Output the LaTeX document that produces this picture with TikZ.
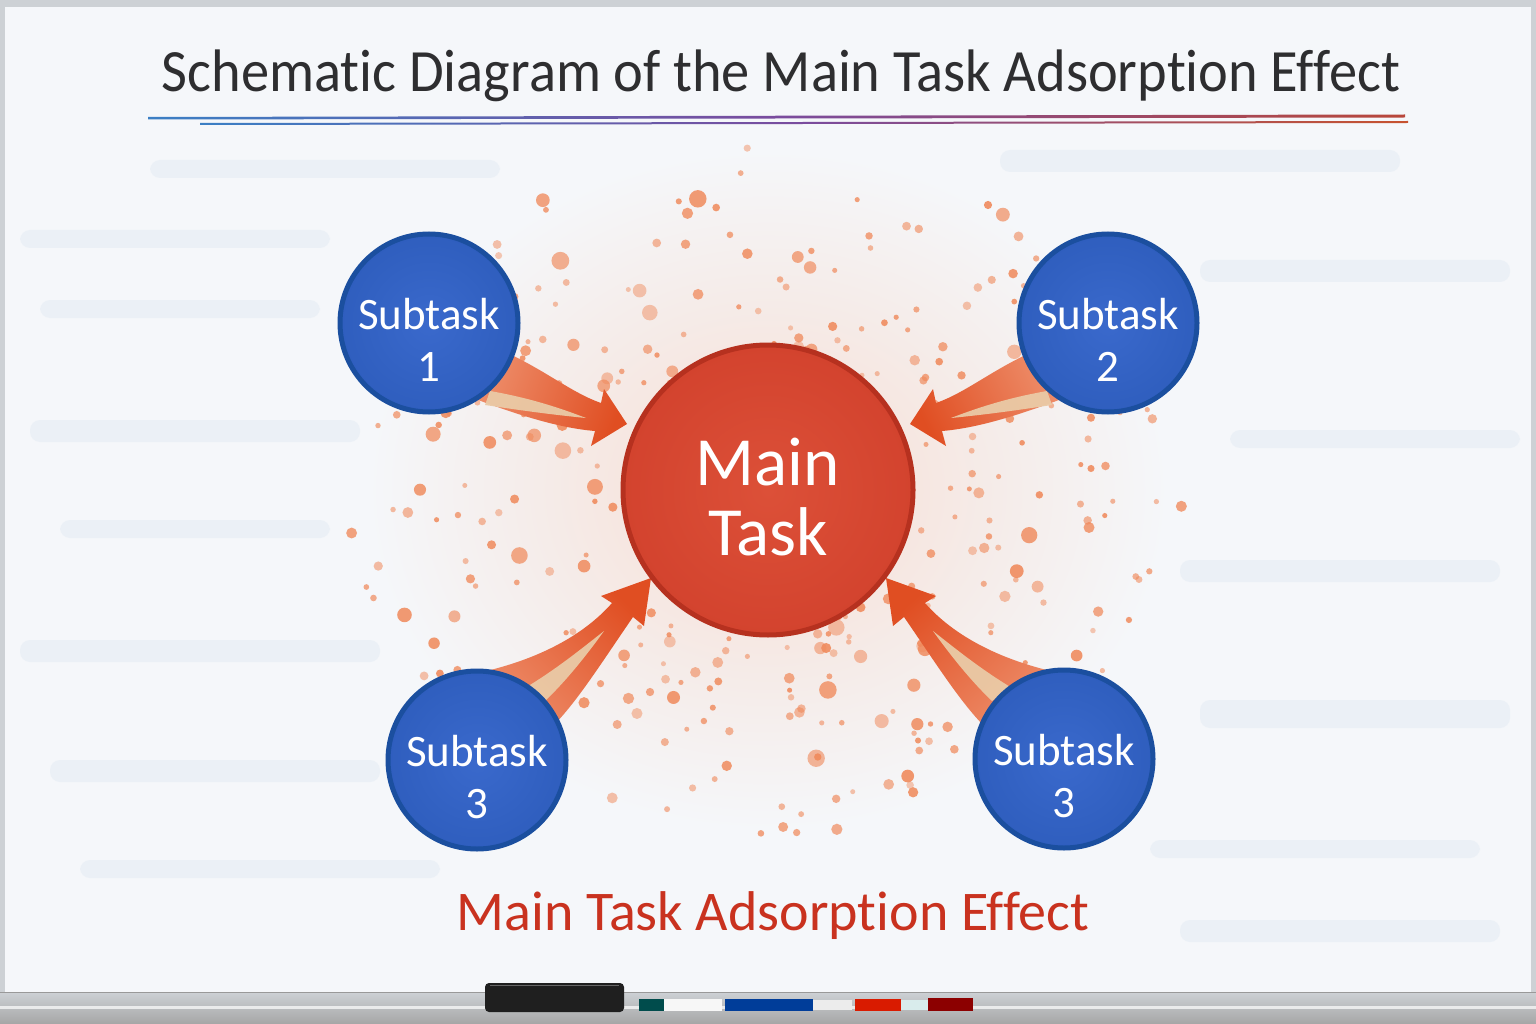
\documentclass[tikz,border=0pt]{standalone}
\usepackage{fontspec}
\setmainfont{Carlito}[Ligatures=NoCommon]
\definecolor{frame}{HTML}{CDD1D5}
\definecolor{board}{HTML}{F5F7FA}
\definecolor{smudge}{HTML}{D9E5F0}
\definecolor{titlec}{HTML}{2E2E30}
\definecolor{ulblue}{HTML}{3B7FC4}
\definecolor{ulpurple}{HTML}{7A4C9E}
\definecolor{ulred}{HTML}{B9473A}
\definecolor{redfill}{HTML}{D3432E}
\definecolor{redin}{HTML}{DC5038}
\definecolor{rededge}{HTML}{B6311F}
\definecolor{bluefill}{HTML}{2F5EBE}
\definecolor{bluein}{HTML}{3A69CC}
\definecolor{blueedge}{HTML}{1B4F9F}
\definecolor{arrowdark}{HTML}{E04E22}
\definecolor{arrowlight}{HTML}{EE8F6C}
\definecolor{streak}{HTML}{EACAA6}
\definecolor{dotc}{HTML}{F08A5C}
\definecolor{halo}{HTML}{F6DDD2}
\definecolor{bottomred}{HTML}{C9321F}
\tikzset{
  maincirc/.style={circle, minimum size=290pt, draw=rededge, line width=5pt, inner color=redin, outer color=redfill},
  subcirc/.style={circle, minimum size=178pt, draw=blueedge, line width=5pt, inner color=bluein, outer color=bluefill},
  maintext/.style={text=white, align=center, font=\fontsize{69}{70}\selectfont},
  subtext/.style={text=white, align=center, font=\fontsize{45}{52}\selectfont},
  arrowbody/.style={top color=arrowlight, bottom color=arrowdark},
  streakfill/.style={fill=streak, opacity=0.95},
  smudgefill/.style={fill=smudge, opacity=0.35, rounded corners=10pt},
}
\begin{document}
\begin{tikzpicture}[x=1pt,y=-1pt]
\useasboundingbox (0,0) rectangle (1536,1024);
% frame and board
\fill[frame] (0,0) rectangle (1536,1024);
\fill[board] (5,7) rectangle (1531,992);
% halo
\shade[inner color=halo, outer color=board] (768,490) ellipse[x radius=400, y radius=340];
% smudges
\foreach \a/\b/\c/\d in {20/230/330/248, 40/300/320/318, 30/420/360/442, 60/520/330/538, 20/640/380/662, 50/760/380/782, 80/860/440/878, 1200/260/1510/282, 1230/430/1520/448, 1180/560/1500/582, 1200/700/1510/728, 1150/840/1480/858, 1180/920/1500/942, 150/160/500/178, 1000/150/1400/172}
  \fill[smudgefill] (\a,\b) rectangle (\c,\d);
% title
\node[text=titlec, anchor=base] (title) at (781,92) {\scalebox{0.94}[1]{\fontsize{60}{66}\selectfont Schematic Diagram of the Main Task Adsorption Effect}};
\shade[left color=ulblue, right color=ulred, middle color=ulpurple] (148,117) -- (1405,114.5) -- (1405,117.5) -- (148,119.5) -- cycle;
\shade[left color=ulblue, right color=ulred!80!orange, middle color=ulpurple] (200,123) -- (1408,121) -- (1408,123) -- (200,125) -- cycle;
% dots
\pgfmathsetseed{4242}
\foreach \i in {1,...,330}{
  \pgfmathsetmacro{\ang}{360*rnd}
  \pgfmathsetmacro{\rr}{0.37+0.63*rnd}
  \pgfmathsetmacro{\px}{768+420*\rr*cos(\ang)}
  \pgfmathsetmacro{\py}{490+345*\rr*sin(\ang)}
  \pgfmathsetmacro{\sz}{2.5+7*rnd*rnd}
  \pgfmathsetmacro{\op}{0.45+0.45*rnd}
  \fill[dotc, opacity=\op] (\px,\py) circle[radius=\sz];
}
% arrows (drawn before circles so tails hide behind them)
\shade[arrowbody, shading angle=70] (505,352) .. controls (545,370) and (572,393) .. (601,403) -- (604,389) -- (627,424) -- (591,446) -- (595,431) .. controls (558,428) and (515,414) .. (470,397) -- cycle;
\fill[streakfill] (490,391) .. controls (530,398) and (560,408) .. (586,418) .. controls (555,415) and (525,411) .. (485,405) -- cycle;
\shade[arrowbody, shading angle=-63] (1032,352) .. controls (992,370) and (965,393) .. (936,403) -- (933,389) -- (910,424) -- (946,446) -- (942,431) .. controls (979,428) and (1022,414) .. (1067,397) -- cycle;
\fill[streakfill] (1047,391) .. controls (1007,398) and (977,408) .. (951,418) .. controls (982,415) and (1012,411) .. (1052,405) -- cycle;
\shade[arrowbody, shading angle=135] (468,675) .. controls (535,662) and (583,636) .. (612,603) -- (601,596) -- (651,578) -- (644,626) -- (633,617) .. controls (602,662) and (577,702) .. (552,727) -- cycle;
\fill[streakfill] (525,688) .. controls (555,670) and (580,650) .. (604,631) .. controls (586,656) and (566,681) .. (545,701) -- cycle;
\shade[arrowbody, shading angle=-138] (1069,675) .. controls (1002,662) and (954,636) .. (925,603) -- (936,596) -- (886,578) -- (893,626) -- (904,617) .. controls (935,662) and (960,702) .. (985,727) -- cycle;
\fill[streakfill] (1012,688) .. controls (982,670) and (957,650) .. (933,631) .. controls (951,656) and (971,681) .. (992,701) -- cycle;
% circles
\node[maincirc] (main) at (768,490) {};
\node[maintext] (maint) at (768,497) {Main\\Task};
\node[subcirc] (s1) at (429,323) {};
\node[subtext] (s1t) at (429,340) {Subtask\\1};
\node[subcirc] (s2) at (1108,323) {};
\node[subtext] (s2t) at (1108,340) {Subtask\\2};
\node[subcirc] (s3) at (477,760) {};
\node[subtext] (s3t) at (477,777) {Subtask\\3};
\node[subcirc] (s4) at (1064,759) {};
\node[subtext] (s4t) at (1064,776) {Subtask\\3};
% bottom caption
\node[text=bottomred, font=\fontsize{56}{60}\selectfont, anchor=base] (caption) at (773,930) {Main Task Adsorption Effect};
% tray
\shade[top color=frame, bottom color=gray!70] (0,992) rectangle (1536,1024);
\fill[white, opacity=0.7] (0,1006) rectangle (1536,1009);
\draw[gray!80, line width=1pt] (0,992) -- (1536,992);
\fill[black!88, rounded corners=4pt] (485,983) rectangle (624,1012);
\draw[black!60, line width=1pt] (490,985) -- (619,985);
\fill[teal!60!black] (639,999) rectangle (664,1011);
\fill[white!94!gray] (664,999) rectangle (722,1011);
\fill[blue!60!cyan!60!black] (725,999) rectangle (813,1011);
\fill[white!85!gray] (813,1000) rectangle (852,1010);
\fill[red!75!orange!85!black] (855,999) rectangle (901,1011);
\fill[white!85!teal] (901,1000) rectangle (928,1010);
\fill[red!55!black] (928,998) rectangle (973,1011);
\end{tikzpicture}
\end{document}
